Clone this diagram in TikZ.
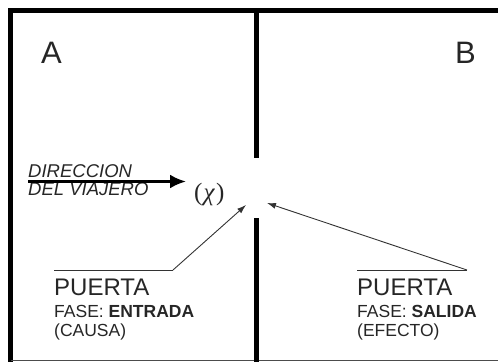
\documentclass[tikz,border=0pt]{standalone}
\usepackage{fontspec}
\setmainfont{Liberation Sans}
\newfontfamily\chifont{Liberation Serif}
\usetikzlibrary{arrows,arrows.meta}

\begin{document}
\begin{tikzpicture}[x=1pt,y=-1pt,>={Latex[length=9pt,width=6pt]},
  txt/.style={inner sep=0pt,anchor=base west,text=black!85},
  wall/.style={line width=5pt},
  lead/.style={line width=0.9pt,black!80}]
\useasboundingbox (0,0) rectangle (498,362);
% frame and the dividing wall with its door gap
\draw[wall] (498,10.5) -- (10.5,10.5) -- (10.5,362);
\draw[line width=1pt,black!70] (10.5,360.5) -- (498,360.5);
\draw[wall] (256,10.5) -- (256,158);
\draw[wall] (256,218) -- (256,362);

\node[txt,font=\fontsize{31}{31}\selectfont] (roomA) at (41,63) {A};
\node[txt,font=\fontsize{31}{31}\selectfont] (roomB) at (455,63) {B};

\node[txt,font=\fontsize{18.5}{18.5}\selectfont\itshape] (dir1) at (28,177) {DIRECCION};
\node[txt,font=\fontsize{18.5}{18.5}\selectfont\itshape] (dir2) at (28,195) {DEL VIAJERO};
\node[txt,font=\chifont\fontsize{25}{25}\selectfont] (chi) at (194,200) {(\kern1pt\textit{χ}\kern1pt)};

\node[txt,font=\fontsize{24}{24}\selectfont] (puertaA) at (54,295) {PUERTA};
\node[txt,font=\fontsize{17.5}{17.5}\selectfont] (faseA) at (54,317) {FASE: \textbf{ENTRADA}};
\node[txt,font=\fontsize{17.5}{17.5}\selectfont] (causa) at (54,336) {(CAUSA)};

\node[txt,font=\fontsize{24}{24}\selectfont] (puertaB) at (357,295) {PUERTA};
\node[txt,font=\fontsize{17.5}{17.5}\selectfont] (faseB) at (357,317) {FASE: \textbf{SALIDA}};
\node[txt,font=\fontsize{17.5}{17.5}\selectfont] (efecto) at (357,336) {(EFECTO)};

\coordinate (dirS) at (28,181.5);
\coordinate (dirE) at (186,181.5);
\coordinate (gateA) at (246,205);
\coordinate (gateB) at (267,203);
\coordinate (kneeA) at (173,270);
\coordinate (kneeB) at (467,270);

\draw[-{Latex[length=16pt,width=14pt]},line width=2.8pt] (dirS) -- (dirE);
\draw[lead] (puertaA.north west |- kneeA) -- (kneeA);
\draw[lead,->] (kneeA) -- (gateA);
\draw[lead] (puertaB.north west |- kneeB) -- (kneeB);
\draw[lead,->] (kneeB) -- (gateB);
\end{tikzpicture}
\end{document}
